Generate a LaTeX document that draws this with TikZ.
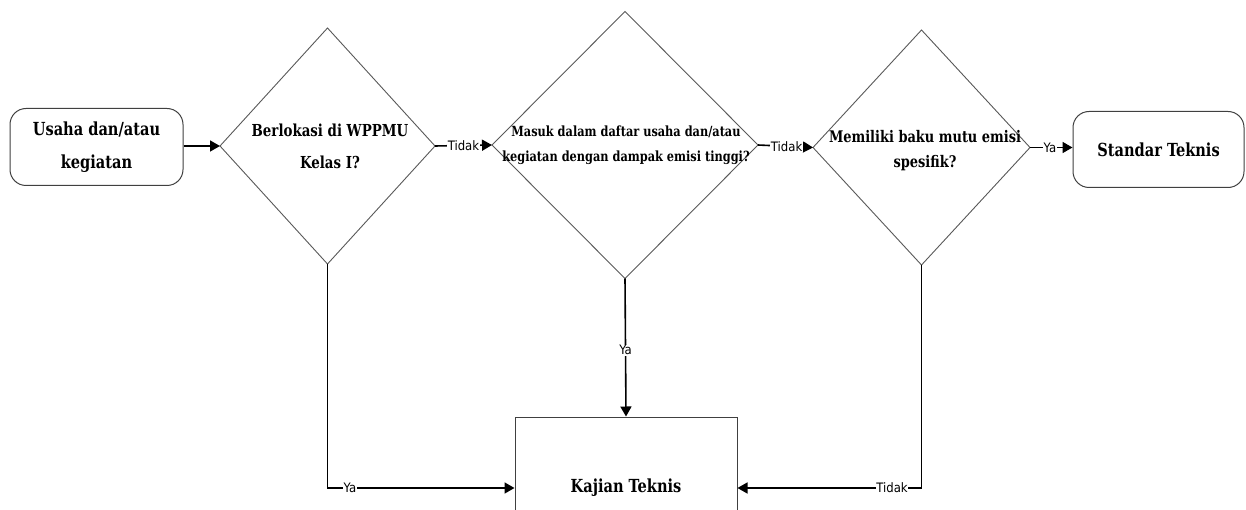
\documentclass[tikz,border=0pt]{standalone}
\usepackage{fontspec}
\usetikzlibrary{shapes.geometric,arrows.meta}
\newfontfamily\slab[FakeStretch=0.9]{DejaVu Serif Condensed}
\newfontfamily\lab{DejaVu Sans Condensed}
\tikzset{
  dmd/.style={diamond, draw=black!65, line width=0.9pt, inner sep=0pt, outer sep=0pt},
  dtext/.style={align=center, font=\slab\bfseries, inner sep=0pt},
  rbox/.style={rounded corners=16pt, draw=black!75, line width=1pt, align=center, font=\slab\bfseries, inner sep=0pt},
  sbox/.style={rectangle, draw=black!75, line width=1pt, align=center, font=\slab\bfseries, inner sep=0pt},
  conn/.style={line width=1.6pt, -{Triangle[length=10pt,width=11pt]}},
  lbl/.style={font=\lab\fontsize{13}{14}\selectfont, fill=white, inner sep=0.5pt, text=black}
}
\begin{document}
\begin{tikzpicture}[x=1pt,y=-1pt]
\useasboundingbox (0,0) rectangle (1246,510);
\clip (0,0) rectangle (1246,510);
\fill[white] (0,0) rectangle (1246,510);
% start box
\node[rbox, minimum width=173pt, minimum height=77pt, font=\slab\bfseries\fontsize{18}{33}\selectfont] (start) at (96.5,147) {Usaha dan/atau\\kegiatan};
% diamonds
\node[dmd, minimum width=215pt, minimum height=236pt] (d1) at (327.5,146) {};
\node[dtext, font=\slab\bfseries\fontsize{16.5}{32}\selectfont] (t1) at (330,146) {Berlokasi di WPPMU\\Kelas I?};
\node[dmd, minimum width=266pt, minimum height=267pt] (d2) at (625,145) {};
\node[dtext, font=\slab\bfseries\fontsize{14}{25}\selectfont] (t2) at (626,145) {Masuk dalam daftar usaha dan/atau\\kegiatan dengan dampak emisi tinggi?};
\node[dmd, minimum width=217pt, minimum height=235pt] (d3) at (921.5,147.5) {};
\node[dtext, font=\slab\bfseries\fontsize{16}{25}\selectfont] (t3) at (925,151) {Memiliki baku mutu emisi\\spesifik?};
% end boxes
\node[rbox, minimum width=171pt, minimum height=76pt, font=\slab\bfseries\fontsize{18}{20}\selectfont] (std) at (1158.5,149.5) {Standar Teknis};
\node[sbox, minimum width=222pt, minimum height=142pt, font=\slab\bfseries\fontsize{18}{20}\selectfont] (kt) at (626,488) {Kajian Teknis};
% connectors
\draw[conn] (start.east |- d1.west) -- (d1.west);
\draw[conn] (d1.east) -- node[lbl, pos=0.5] {Tidak} (d2.west);
\draw[conn] (d2.east) -- node[lbl, pos=0.52] {Tidak} (d3.west);
\draw[conn] (d3.east) -- node[lbl, pos=0.47] {Ya} (d3.east -| std.west);
\draw[conn] (d2.south) -- node[lbl, pos=0.52] {Ya} (kt.north);
\draw[conn] (d1.south) |- node[lbl, pos=0.56] {Ya} (kt.west);
\draw[conn] (d3.south) |- node[lbl, pos=0.58] {Tidak} (kt.east);
\end{tikzpicture}
\end{document}
